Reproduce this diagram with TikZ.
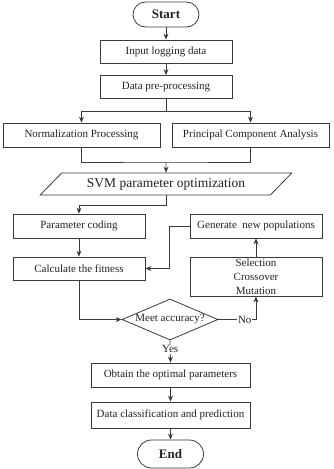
\documentclass[tikz,border=0pt]{standalone}
\usepackage{fontspec}
\setmainfont{Liberation Serif}
\usetikzlibrary{arrows.meta,shapes.geometric}
\definecolor{linegray}{RGB}{58,58,58}
\definecolor{textgray}{RGB}{34,34,34}

\begin{document}
\begin{tikzpicture}[x=1pt,y=-1pt,
  line width=0.8pt,draw=linegray,text=textgray,
  font=\fontsize{11}{13.8}\selectfont,
  arr/.style={-{Stealth[length=6pt,width=5pt]}},
  procbox/.style={draw=linegray,rectangle,inner sep=0pt,align=center},
  termbox/.style={draw=linegray,rectangle,rounded corners=12.5pt,inner sep=0pt,
    minimum width=66pt,font=\fontsize{13}{15}\selectfont\bfseries},
  lbl/.style={fill=white,inner sep=1pt}]
\useasboundingbox (0,0) rectangle (334,469);
\node[termbox,minimum height=25pt] (start) at (166,14.5) {Start};
\node[procbox,minimum width=132pt,minimum height=23pt] (input) at (166,51.5) {Input logging data};
\node[procbox,minimum width=132pt,minimum height=23pt] (prep) at (166,87) {Data pre-processing};
\node[procbox,minimum width=157pt,minimum height=24pt] (norm) at (81.5,135) {Normalization Processing};
\node[procbox,minimum width=157pt,minimum height=24pt] (pca) at (250.5,135) {Principal Component Analysis};
\node[draw=linegray,trapezium,trapezium left angle=36,trapezium right angle=144,
  trapezium stretches=true,minimum width=252pt,minimum height=22pt,inner sep=0pt,
  font=\fontsize{13.5}{16}\selectfont] (svm) at (166,184) {SVM parameter optimization};
\node[procbox,minimum width=132pt,minimum height=24pt] (code) at (79,226) {Parameter coding};
\node[procbox,minimum width=132pt,minimum height=24pt] (gen) at (256,226) {Generate\ \ new populations};
\node[procbox,minimum width=132pt,minimum height=23pt] (calc) at (79,268.5) {Calculate the fitness};
\node[procbox,minimum width=132pt,minimum height=39pt] (sel) at (256,276.5) {Selection\\Crossover\\Mutation};
\node[draw=linegray,diamond,aspect=2.3,inner sep=0pt,minimum width=96pt,minimum height=41pt] (meet) at (170,319.5) {Meet accuracy?};
\node[procbox,minimum width=159pt,minimum height=24pt] (obtain) at (170.5,375) {Obtain the optimal parameters};
\node[procbox,minimum width=159pt,minimum height=26pt] (classify) at (170.5,415) {Data classification and prediction};
\node[termbox,minimum height=28pt,rounded corners=14pt] (end) at (170.5,454) {End};
\coordinate (split) at (166,111);
\coordinate (join) at (166,162);
\draw[arr] (start) -- (input);
\draw[arr] (input) -- (prep);
\draw (prep.south) -- (split);
\draw[arr] (split) -| (norm.north);
\draw[arr] (split) -| (pca.north);
\draw (norm.south) |- (join) -| (pca.south);
\draw[arr] (join) -- (svm.north);
\draw[arr] (svm.south) -- ++(0,10) -| (code.north);
\draw[arr] (code) -- (calc);
\draw[arr] (gen.west) -- ++(-20,0) |- (calc.east);
\draw[arr] (sel) -- (gen);
\draw[arr] (calc.south) |- (meet.west);
\draw[arr] (meet.east) -| node[lbl,pos=0.35] {No} (sel.south);
\draw[arr] (meet.south) -- node[lbl,pos=0.4] {Yes} (obtain.north);
\draw[arr] (obtain) -- (classify);
\draw[arr] (classify) -- (end);
\end{tikzpicture}
\end{document}
